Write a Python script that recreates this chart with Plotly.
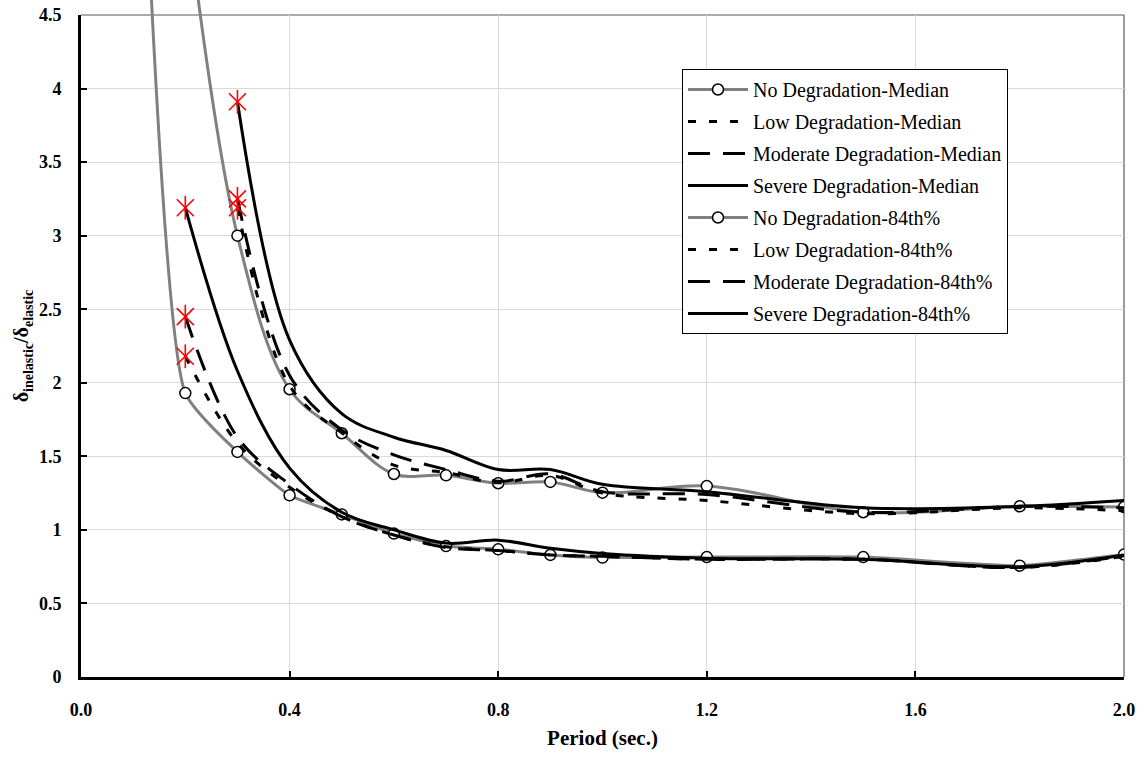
import plotly.graph_objects as go

# ---------------- data ----------------
T_nd_med = [0.1, 0.2, 0.3, 0.4, 0.5, 0.6, 0.7, 0.8, 0.9, 1.0, 1.2, 1.5, 1.8, 2.0]
nd_med = [7.5, 1.93, 1.53, 1.235, 1.105, 0.975, 0.89, 0.868, 0.83, 0.812, 0.815, 0.815, 0.757, 0.832]

T_med = [0.2, 0.3, 0.4, 0.5, 0.6, 0.7, 0.8, 0.9, 1.0, 1.2, 1.5, 1.8, 2.0]
low_med = [2.18, 1.59, 1.29, 1.09, 0.965, 0.885, 0.86, 0.83, 0.82, 0.80, 0.80, 0.745, 0.82]
mod_med = [2.45, 1.63, 1.31, 1.09, 0.965, 0.88, 0.86, 0.83, 0.82, 0.80, 0.80, 0.745, 0.825]
sev_med = [3.19, 2.08, 1.42, 1.12, 1.0, 0.91, 0.93, 0.875, 0.84, 0.808, 0.80, 0.75, 0.83]

T_nd_84 = [0.2, 0.3, 0.4, 0.5, 0.6, 0.7, 0.8, 0.9, 1.0, 1.2, 1.5, 1.8, 2.0]
nd_84 = [5.3, 3.0, 1.956, 1.657, 1.38, 1.371, 1.317, 1.326, 1.253, 1.298, 1.12, 1.16, 1.155]

T_84 = [0.3, 0.4, 0.5, 0.6, 0.7, 0.8, 0.9, 1.0, 1.2, 1.5, 1.8, 2.0]
low_84 = [3.19, 1.98, 1.66, 1.44, 1.39, 1.32, 1.37, 1.25, 1.20, 1.11, 1.15, 1.13]
mod_84 = [3.25, 2.05, 1.68, 1.51, 1.41, 1.33, 1.38, 1.26, 1.24, 1.12, 1.16, 1.15]
sev_84 = [3.91, 2.29, 1.79, 1.63, 1.54, 1.41, 1.41, 1.31, 1.26, 1.15, 1.16, 1.2]

names = ["No Degradation-Median", "Low Degradation-Median", "Moderate Degradation-Median",
         "Severe Degradation-Median", "No Degradation-84th%", "Low Degradation-84th%",
         "Moderate Degradation-84th%", "Severe Degradation-84th%"]

x_ticks = [0.0, 0.4, 0.8, 1.2, 1.6, 2.0]
x_ticktext = ["0.0", "0.4", "0.8", "1.2", "1.6", "2.0"]
y_ticks = [0, 0.5, 1, 1.5, 2, 2.5, 3, 3.5, 4, 4.5]
y_ticktext = ["0", "0.5", "1", "1.5", "2", "2.5", "3", "3.5", "4", "4.5"]

# ---------------- styling ----------------
GRAY = "#808080"
FONT = "Liberation Serif, Times New Roman, serif"
LW = 3
DOT = "8px,13px"
LDASH = "22px,13px"

# (x, y, name, colour, dash, markers, smoothing)
series = [
    (T_nd_med, nd_med, names[0], GRAY, "solid", True, 0.5),
    (T_med, low_med, names[1], "black", DOT, False, 1.0),
    (T_med, mod_med, names[2], "black", LDASH, False, 1.0),
    (T_med, sev_med, names[3], "black", "solid", False, 1.0),
    (T_nd_84, nd_84, names[4], GRAY, "solid", True, 1.0),
    (T_84, low_84, names[5], "black", DOT, False, 1.0),
    (T_84, mod_84, names[6], "black", LDASH, False, 1.0),
    (T_84, sev_84, names[7], "black", "solid", False, 1.0),
]

fig = go.Figure()
# empty trace so that the visible (x, y) axes pair is rendered
fig.add_trace(go.Scatter(x=[], y=[], showlegend=False, hoverinfo="skip",
                         xaxis="x", yaxis="y"))

for xs, ys, nm, col, dash, mk, sm in series:
    fig.add_trace(go.Scatter(
        x=xs, y=ys, name=nm, legendgroup=nm,
        mode="lines+markers" if mk else "lines",
        line=dict(color=col, width=LW, dash=dash, shape="spline", smoothing=sm),
        marker=dict(symbol="circle", size=11, color="white",
                    line=dict(color="black", width=1.5)) if mk else None,
        xaxis="x2", yaxis="y2",
    ))

# red star markers at the first point of the degradation curves
star_x = [T_med[0], T_med[0], T_med[0], T_84[0], T_84[0], T_84[0]]
star_y = [low_med[0], mod_med[0], sev_med[0], low_84[0], mod_84[0], sev_84[0]]
for sym in ["x-thin-open", "line-ns-open"]:
    fig.add_trace(go.Scatter(
        x=star_x, y=star_y, mode="markers", showlegend=False,
        marker=dict(symbol=sym, size=17, color="red", line=dict(color="red", width=1.6)),
        xaxis="x2", yaxis="y2", hoverinfo="skip",
    ))

# ---------------- layout ----------------
W, H = 1145, 759
L, R, B, T = 81, 21, 82, 0
plot_w = W - L - R
plot_h = H - T - B            # 677
top_px = 15                   # pixel of y = 4.5
ydom_top = (plot_h - top_px) / plot_h
y_max = 4.5
y2_max = y_max / ydom_top

tickfont = dict(family=FONT, size=18, color="black", weight="bold")

fig.update_layout(
    template="none",
    width=W, height=H,
    margin=dict(l=L, r=R, t=T, b=B, autoexpand=False),
    paper_bgcolor="white",
    plot_bgcolor="rgba(0,0,0,0)",
    font=dict(family=FONT, color="black"),
    xaxis=dict(
        range=[0, 2.0], domain=[0, 1], anchor="y", automargin=False,
        tickvals=x_ticks, ticktext=x_ticktext, tickfont=tickfont,
        showgrid=True, gridcolor="#d9d9d9", gridwidth=1,
        showline=True, linecolor="black", linewidth=3,
        ticks="inside", ticklen=6, tickwidth=2, tickcolor="black",
        ticklabelstandoff=14, zeroline=False,
        title=dict(text="Period (sec.)", font=dict(family=FONT, size=21, weight="bold"),
                   standoff=12),
    ),
    yaxis=dict(
        range=[0, y_max], domain=[0, ydom_top], anchor="x", automargin=False,
        tickvals=y_ticks, ticktext=y_ticktext, tickfont=tickfont,
        showgrid=True, gridcolor="#d9d9d9", gridwidth=1,
        showline=True, linecolor="black", linewidth=3,
        ticks="inside", ticklen=6, tickwidth=2, tickcolor="black",
        ticklabelstandoff=13, zeroline=False,
        title=dict(text="δ<sub>inelastic</sub>/δ<sub>elastic</sub>",
                   font=dict(family=FONT, size=20, weight="bold"), standoff=5),
    ),
    xaxis2=dict(range=[0, 2.0], domain=[0, 1], anchor="y2", visible=False,
                showgrid=False, zeroline=False, automargin=False),
    yaxis2=dict(range=[0, y2_max], domain=[0, 1], anchor="x2", visible=False,
                showgrid=False, zeroline=False, automargin=False),
    legend=dict(
        x=(682 - L) / plot_w, y=1 - 69 / plot_h, xanchor="left", yanchor="top",
        bgcolor="white", bordercolor="black", borderwidth=1,
        font=dict(family=FONT, size=20, color="black"),
        itemwidth=60, tracegroupgap=3, traceorder="grouped",
    ),
    showlegend=True,
    shapes=[
        dict(type="line", xref="x domain", yref="y domain", x0=0, x1=1, y0=1, y1=1,
             line=dict(color="#595959", width=1.2), layer="below"),
        dict(type="line", xref="x domain", yref="y domain", x0=1, x1=1, y0=0, y1=1,
             line=dict(color="#595959", width=1.2), layer="below"),
    ],
)

fig.write_html("out.html")
